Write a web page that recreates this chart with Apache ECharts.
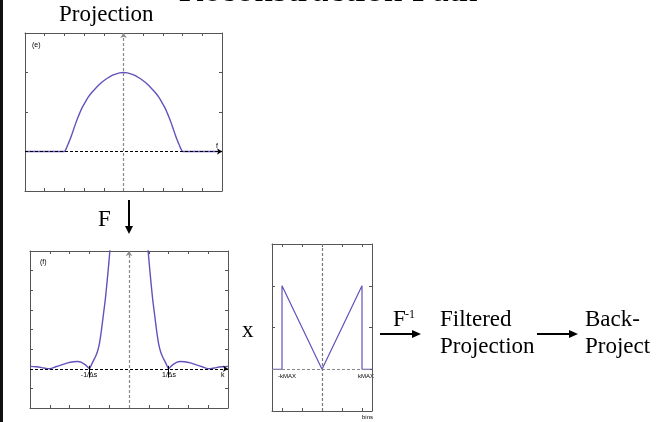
<!DOCTYPE html>
<html>
<head>
<meta charset="utf-8">
<script src="https://cdn.jsdelivr.net/npm/echarts@6/dist/echarts.min.js"></script>
<style>
  html, body { margin: 0; padding: 0; background: #fff; }
  #chart { width: 661px; height: 422px; }
</style>
</head>
<body>
<div id="chart"></div>
<script>
// (e) projection profile
const projK = [-5, -3, -2.9, -2.8, -2.7, -2.6, -2.5, -2.4, -2.3, -2.2, -2.1, -2.0, -1.8, -1.6, -1.4, -1.2, -1.0, -0.8, -0.6, -0.4, -0.2, 0,
  0.2, 0.4, 0.6, 0.8, 1.0, 1.2, 1.4, 1.6, 1.8, 2.0, 2.1, 2.2, 2.3, 2.4, 2.5, 2.6, 2.7, 2.8, 2.9, 3, 5]
const projVal = [0, 0, 0.08, 0.2, 0.32, 0.46, 0.61, 0.75, 0.88, 1.0, 1.11, 1.2, 1.37, 1.5, 1.61, 1.71, 1.79, 1.86, 1.92, 1.96, 1.99, 2.0,
  1.99, 1.96, 1.92, 1.86, 1.79, 1.71, 1.61, 1.5, 1.37, 1.2, 1.11, 1.0, 0.88, 0.75, 0.61, 0.46, 0.32, 0.2, 0.08, 0, 0]

// (f) fourier transform of the projection
const ftK = [-5, -4.7, -4.4, -4.2, -4, -3.7, -3.4, -3.1, -2.8, -2.6, -2.4, -2.2, -2.1, -2, -1.9, -1.8, -1.7, -1.6, -1.5, -1.4, -1.3, -1.2, -1.1, -1.0, -0.9, -0.6, 0,
  0.6, 0.9, 1.0, 1.1, 1.2, 1.3, 1.4, 1.5, 1.6, 1.7, 1.8, 1.9, 2, 2.1, 2.2, 2.4, 2.6, 2.8, 3.1, 3.4, 3.7, 4, 4.2, 4.4, 4.7, 5]
const ftVal = [0.12, 0.1, 0.06, 0.02, 0, 0.1, 0.2, 0.3, 0.36, 0.37, 0.33, 0.2, 0.1, 0, 0.2, 0.4, 0.6, 0.85, 1.25, 1.9, 2.7, 3.5, 4.5, 5.6, 6.8, 10, 12,
  10, 6.8, 5.6, 4.5, 3.5, 2.7, 1.9, 1.25, 0.85, 0.6, 0.4, 0.2, 0, 0.1, 0.2, 0.33, 0.37, 0.36, 0.3, 0.2, 0.1, 0, 0.02, 0.06, 0.1, 0.12]
// zeros marked with a small tick
const ftZeros = [-2, 2]

// ramp filter
const rampK = [-2.5, -2, -2, 0, 2, 2, 2.5]
const rampVal = [0, 0, 2, 0, 2, 0, 0]
const rampTicks = [-2, -1, 0, 1, 2]

const purple = '#6650bb'
const frame = '#555'
const serif = 'Liberation Serif, Times New Roman, serif'
const sans = 'Liberation Sans, Arial, sans-serif'

const pairs = (xs, ys) => xs.map((x, i) => [x, ys[i]])

// one axis of a boxed panel
function axis (grid, pos, min, max, interval, ticks) {
  const a = {
    gridIndex: grid,
    type: 'value',
    position: pos,
    min: min,
    max: max,
    axisLine: { show: true, onZero: false, lineStyle: { color: frame, width: 1 } },
    axisTick: { show: true, inside: true, length: 3, lineStyle: { color: frame } },
    axisLabel: { show: false },
    splitLine: { show: false }
  }
  if (ticks) {
    a.axisTick.customValues = ticks
  } else {
    a.interval = interval
  }
  return a
}

// dashed zero lines, optional arrow heads, plus extra segments
function dashLines (hColor, vColor, arrow, extra) {
  const ends = arrow ? ['none', 'arrow'] : ['none', 'none']
  return {
    silent: true,
    animation: false,
    symbol: ends,
    symbolSize: 5,
    label: { show: false },
    emphasis: { disabled: true },
    data: [
      { yAxis: 0, lineStyle: { color: hColor, type: [3, 2], width: 1 } },
      { xAxis: 0, lineStyle: { color: vColor, type: [3, 2], width: 1.2 } }
    ].concat(extra || [])
  }
}

const zeroTicks = ftZeros.map(k => [
  { coord: [k, 0.15], symbol: 'none', lineStyle: { color: '#000', type: 'solid', width: 1 } },
  { coord: [k, -0.45], symbol: 'none' }
])

const chart = echarts.init(document.getElementById('chart'), null, { renderer: 'canvas' })

const txt = (text, x, y, size, font, align) => ({
  type: 'text',
  x: x,
  y: y,
  silent: true,
  style: { text: text, font: size + 'px ' + (font || serif), fill: '#000', align: align || 'left', verticalAlign: 'top' }
})

const option = {
  animation: false,
  backgroundColor: '#fff',
  grid: [
    { left: 25, top: 33, width: 197, height: 158 },
    { left: 30, top: 251, width: 198, height: 157 },
    { left: 272, top: 244, width: 100, height: 167 }
  ],
  xAxis: [
    axis(0, 'bottom', -5, 5, 1), axis(0, 'top', -5, 5, 1),
    axis(1, 'bottom', -5, 5, 1), axis(1, 'top', -5, 5, 1),
    axis(2, 'bottom', -2.5, 2.5, 0, rampTicks), axis(2, 'top', -2.5, 2.5, 0, rampTicks)
  ],
  yAxis: [
    axis(0, 'left', -1, 3, 1), axis(0, 'right', -1, 3, 1),
    axis(1, 'left', -2, 6, 1), axis(1, 'right', -2, 6, 1),
    axis(2, 'left', -1, 3, 1), axis(2, 'right', -1, 3, 1)
  ],
  series: [
    {
      type: 'line',
      xAxisIndex: 0,
      yAxisIndex: 0,
      data: pairs(projK, projVal),
      showSymbol: false,
      smooth: 0.15,
      lineStyle: { color: purple, width: 1.4 },
      z: 3,
      markLine: dashLines('#000', '#888', true)
    },
    {
      type: 'line',
      xAxisIndex: 2,
      yAxisIndex: 2,
      data: pairs(ftK, ftVal),
      showSymbol: false,
      smooth: 0.2,
      clip: true,
      lineStyle: { color: purple, width: 1.4 },
      z: 3,
      markLine: dashLines('#000', '#888', true, zeroTicks)
    },
    {
      type: 'line',
      xAxisIndex: 4,
      yAxisIndex: 4,
      data: pairs(rampK, rampVal),
      showSymbol: false,
      lineStyle: { color: purple, width: 1.2 },
      z: 3,
      markLine: dashLines('#888', '#777', false)
    }
  ],
  graphic: [
    { type: 'rect', shape: { x: 0, y: 0, width: 3, height: 422 }, style: { fill: '#111' }, silent: true },
    txt('Reconstruction Path', 328, -27, 37, serif, 'center'),
    txt('Projection', 59, 3, 23),
    txt('F', 98, 208, 23),
    txt('x', 242, 319, 23),
    txt('F', 393, 308, 23),
    txt('-1', 405, 309, 12),
    txt('Filtered', 440, 308, 23),
    txt('Projection', 440, 335, 23),
    txt('Back-', 585, 308, 23),
    txt('Project', 585, 335, 23),
    // arrows
    { type: 'line', shape: { x1: 129, y1: 200, x2: 129, y2: 228 }, style: { stroke: '#000', lineWidth: 2 }, silent: true },
    { type: 'polygon', shape: { points: [[125, 226], [133, 226], [129, 234]] }, style: { fill: '#000' }, silent: true },
    { type: 'line', shape: { x1: 380, y1: 334, x2: 414, y2: 334 }, style: { stroke: '#000', lineWidth: 2 }, silent: true },
    { type: 'polygon', shape: { points: [[412, 330], [421, 334], [412, 338]] }, style: { fill: '#000' }, silent: true },
    { type: 'line', shape: { x1: 537, y1: 334, x2: 571, y2: 334 }, style: { stroke: '#000', lineWidth: 2 }, silent: true },
    { type: 'polygon', shape: { points: [[569, 330], [578, 334], [569, 338]] }, style: { fill: '#000' }, silent: true },
    // small panel annotations
    txt('(e)', 32, 42, 7, sans),
    txt('f', 216, 143, 7, sans),
    txt('(f)', 40, 259, 7, sans),
    txt('k', 221, 372, 7, sans),
    txt('-1/Δs', 89, 372, 7, sans, 'center'),
    txt('1/Δs', 169, 372, 7, sans, 'center'),
    txt('-kMAX', 278, 373, 6, sans),
    txt('kMAX', 358, 373, 6, sans),
    txt('bins', 362, 414, 6, sans)
  ]
}

chart.setOption(option)
</script>
</body>
</html>
